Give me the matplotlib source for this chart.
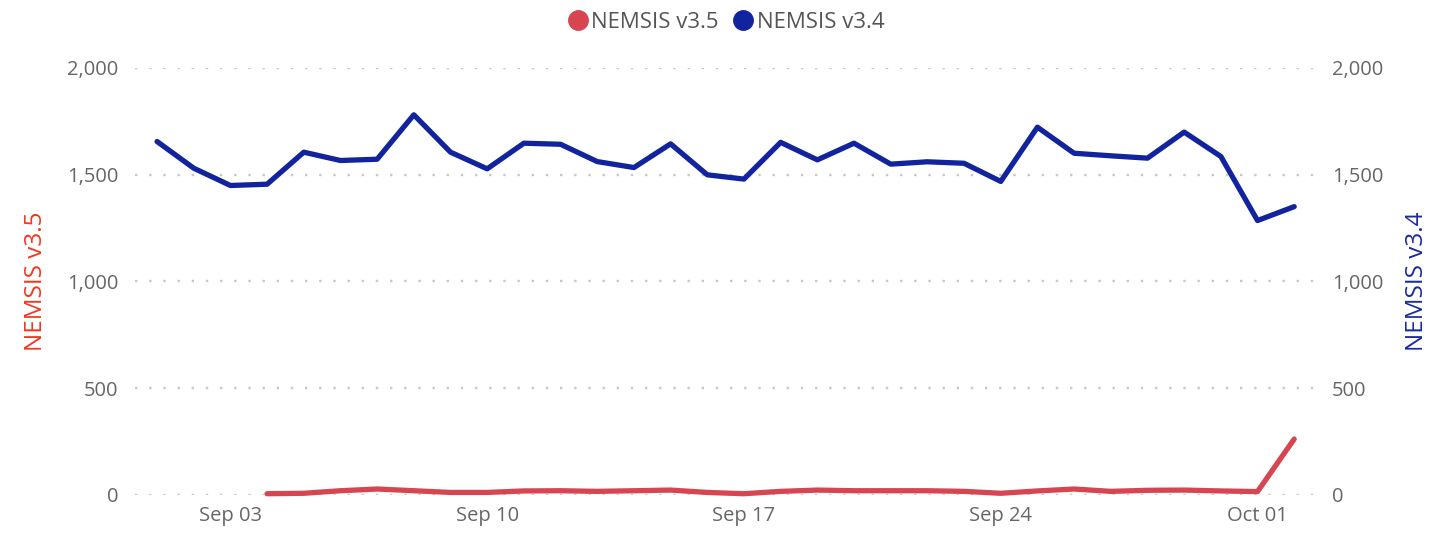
import numpy as np
import pandas as pd
import matplotlib
matplotlib.use("Agg")
import matplotlib.pyplot as plt
import matplotlib.dates as mdates
from matplotlib.lines import Line2D

plt.rcParams['font.family'] = ['Open Sans', 'DejaVu Sans']

#---------------- data
dates = pd.date_range("2023-09-01", "2023-10-02", freq="D")
v34 = [1655, 1530, 1449, 1455, 1605, 1566, 1572, 1780, 1605, 1527,
       1647, 1642, 1561, 1533, 1644, 1499, 1479, 1651, 1569, 1647,
       1549, 1560, 1553, 1468, 1722, 1600, 1588, 1577, 1699, 1585,
       1285, 1350]
# v3.5 starts on Sep 04
v35_dates = dates[3:]
v35 = [6, 8, 20, 28, 20, 12, 12, 19, 20, 17, 20, 23, 12,
       6, 17, 23, 20, 20, 20, 17, 8, 19, 28, 17, 22, 23, 19, 16, 262]
yticks = [0, 500, 1000, 1500, 2000]
xtick_dates = pd.to_datetime(["2023-09-03", "2023-09-10", "2023-09-17",
                              "2023-09-24", "2023-10-01"])

red = '#D64550'
blue = '#12239E'
grey = '#666666'

fig = plt.figure(figsize=(14.49, 5.36), dpi=100)
ax = fig.add_axes([0.0932, 0.0765, 0.8144, 0.797])
ax2 = ax.twinx()

ax.plot(v35_dates, v35, color=red, lw=3.8, solid_capstyle='round',
        solid_joinstyle='round', clip_on=False, zorder=3)
ax2.plot(dates, v34, color=blue, lw=3.8, solid_capstyle='round',
         solid_joinstyle='round', clip_on=False, zorder=3)

for a in (ax, ax2):
    a.set_ylim(0, 2000)
    a.set_yticks(yticks)
    a.set_yticklabels([f"{t:,}" for t in yticks])
    a.set_xlim(dates[0] - pd.Timedelta(days=0.6), dates[-1] + pd.Timedelta(days=0.57))
    for s in a.spines.values():
        s.set_visible(False)
    a.tick_params(length=0, labelsize=14.5, labelcolor=grey)

ax.tick_params(axis='y', pad=12)
ax2.tick_params(axis='y', pad=12)
ax.tick_params(axis='x', pad=8)
ax.set_xticks(xtick_dates)
ax.xaxis.set_major_formatter(mdates.DateFormatter('%b %d'))

ax.yaxis.grid(True, color='#C8C8C8', linestyle=(0, (1, 5)), linewidth=1.7)
ax.set_axisbelow(True)

ax.set_ylabel("NEMSIS v3.5", color='#F4361E', fontsize=17.5, labelpad=14)
ax2.set_ylabel("NEMSIS v3.4", color='#1A2A9C', fontsize=17.5, labelpad=16)

handles = [Line2D([], [], marker='o', ls='', color=red, markersize=14),
           Line2D([], [], marker='o', ls='', color=blue, markersize=14)]
fig.legend(handles, ["NEMSIS v3.5", "NEMSIS v3.4"], loc='upper center',
           bbox_to_anchor=(0.5, 1.015), ncol=2, frameon=False, fontsize=16,
           labelcolor='#555555', handletextpad=0.0, columnspacing=0.5,
           handlelength=1.2)

fig.savefig("out.png", dpi=100)
